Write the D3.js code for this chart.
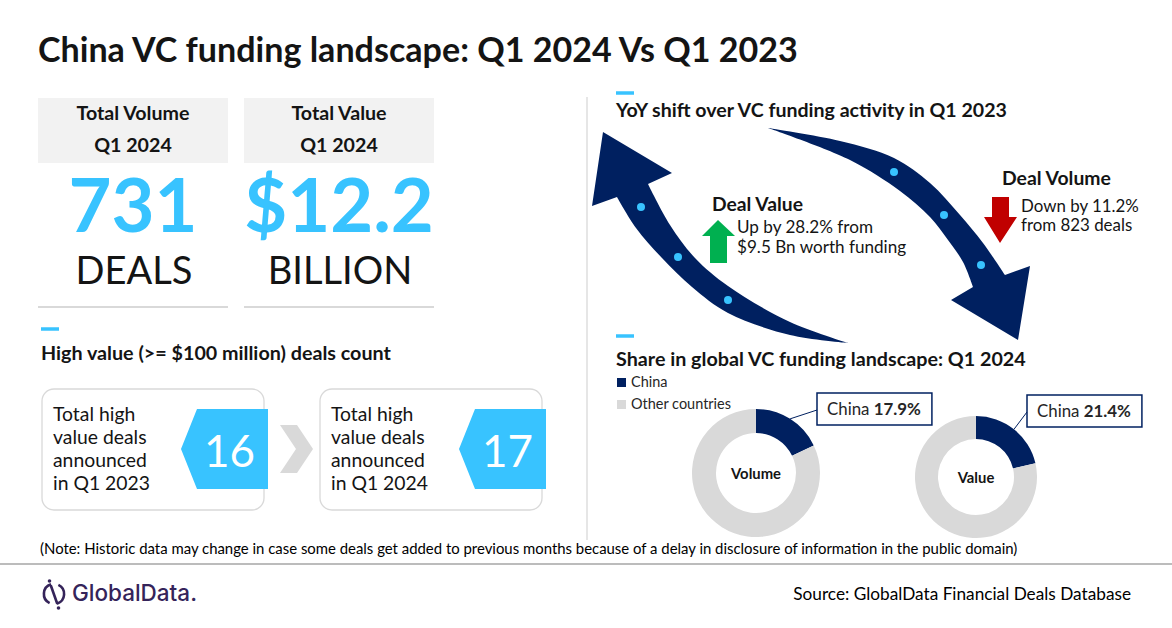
<!DOCTYPE html>
<html>
<head>
<meta charset="utf-8">
<script src="https://cdn.jsdelivr.net/npm/d3@7/dist/d3.min.js"></script>
<style>
  html, body { margin: 0; padding: 0; background: #fff; }
  svg { display: block; font-family: Lato, "Open Sans", sans-serif; }
</style>
</head>
<body>
<svg id="chart" width="1172" height="628"></svg>
<script>
// ---------------- DATA ----------------
const titleText = "China VC funding landscape: Q1 2024 Vs Q1 2023";
const kpiLabels = ["Total Volume", "Total Value"];
const kpiPeriod = "Q1 2024";
const kpiValues = ["731", "$12.2"];
const kpiUnits = ["DEALS", "BILLION"];

const highValueTitle = "High value (>= $100 million) deals count";
const highValuePeriods = ["Q1 2023", "Q1 2024"];
const highValueCounts = [16, 17];

const yoyTitle = "YoY shift over VC funding activity in Q1 2023";
const yoyMetrics = ["Deal Value", "Deal Volume"];
const yoyChangePct = [28.2, -11.2];
const yoyPrior = ["$9.5 Bn worth funding", "823 deals"];

const shareTitle = "Share in global VC funding landscape: Q1 2024";
const shareCategories = ["China", "Other countries"];
const shareMeasures = ["Volume", "Value"];
const shareVolume = [17.9, 82.1];
const shareValue = [21.4, 78.6];

const noteText = "(Note: Historic data may change in case some deals get added to previous months because of a delay in disclosure of information in the public domain)";
const sourceText = "Source: GlobalData Financial Deals Database";
const brandText = "GlobalData.";

// ---------------- STYLE ----------------
const NAVY = "#002060", BLUE = "#38C3FF", LGRAY = "#D9D9D9", BOXGRAY = "#F2F2F2", INK = "#141414";

const svg = d3.select("#chart");

function fit(sel, w) {
  const n = sel.node();
  const L = n.getComputedTextLength();
  const fs = parseFloat(sel.attr("font-size"));
  const nf = fs * w / L;
  sel.attr("font-size", nf.toFixed(2));
  return nf;
}

// ---------------- TITLE ----------------
const title = svg.append("text").attr("x", 38).attr("y", 62)
  .attr("font-size", 32).attr("font-weight", 700).attr("fill", INK).text(titleText);
fit(title, 760);

// ---------------- KPI CARDS ----------------
const kpiX = d3.scalePoint().domain(kpiLabels).range([133, 339]);
const kpiW = 190;
const kg = svg.append("g");
kg.selectAll("rect.hdr").data(kpiLabels).join("rect")
  .attr("x", d => kpiX(d) - kpiW / 2 + 0).attr("y", 98).attr("width", kpiW).attr("height", 65)
  .attr("fill", BOXGRAY);
const lab = kg.selectAll("text.lab").data(kpiLabels).join("text")
  .attr("x", d => kpiX(d)).attr("y", 120).attr("text-anchor", "middle")
  .attr("font-size", 18).attr("font-weight", 700).attr("fill", INK).text(d => d);
const labSize = fit(d3.select(lab.nodes()[0]), 113);
lab.attr("font-size", labSize);
kg.selectAll("text.per").data(kpiLabels).join("text")
  .attr("x", d => kpiX(d)).attr("y", 152).attr("text-anchor", "middle")
  .attr("font-size", labSize).attr("font-weight", 700).attr("fill", INK).text(kpiPeriod);
const val = kg.selectAll("text.val").data(kpiValues).join("text")
  .attr("x", (d, i) => kpiX(kpiLabels[i])).attr("y", 232).attr("text-anchor", "middle")
  .attr("font-size", 80).attr("font-weight", 700).attr("fill", BLUE).text(d => d);
const valSize = fit(d3.select(val.nodes()[0]), 129);
val.attr("font-size", valSize);
const unit = kg.selectAll("text.unit").data(kpiUnits).join("text")
  .attr("x", (d, i) => kpiX(kpiLabels[i]) + 1).attr("y", 284).attr("text-anchor", "middle")
  .attr("font-size", 40).attr("font-weight", 400).attr("fill", INK).text(d => d);
const unitSize = fit(d3.select(unit.nodes()[0]), 117);
unit.attr("font-size", unitSize);
kg.selectAll("line.ul").data(kpiLabels).join("line")
  .attr("x1", d => kpiX(d) - kpiW / 2).attr("x2", d => kpiX(d) + kpiW / 2)
  .attr("y1", 307).attr("y2", 307).attr("stroke", LGRAY).attr("stroke-width", 2.2);

// ---------------- HIGH VALUE DEALS ----------------
svg.append("line").attr("x1", 41).attr("x2", 59).attr("y1", 329).attr("y2", 329)
  .attr("stroke", BLUE).attr("stroke-width", 3.5);
const hvt = svg.append("text").attr("x", 41).attr("y", 360)
  .attr("font-size", 18).attr("font-weight", 700).attr("fill", INK).text(highValueTitle);
fit(hvt, 350);

const hvX = d3.scalePoint().domain(highValuePeriods).range([42, 320]);
const boxW = 222, boxTop = 389, boxH = 121;
const hg = svg.append("g");
hg.selectAll("rect.box").data(highValuePeriods).join("rect")
  .attr("x", d => hvX(d)).attr("y", boxTop).attr("width", boxW).attr("height", boxH)
  .attr("rx", 12).attr("fill", "#fff").attr("stroke", LGRAY).attr("stroke-width", 1.3);

const hvLines = p => ["Total high", "value deals", "announced", "in " + p];
let lineSize = null;
highValuePeriods.forEach((p, i) => {
  const t = hg.append("text").attr("font-size", 20).attr("fill", INK);
  hvLines(p).forEach((ln, j) => {
    t.append("tspan").attr("x", hvX(p) + 11).attr("y", 421 + j * 23).text(ln);
  });
  if (lineSize === null) {
    const probe = hg.append("text").attr("font-size", 20).text("announced");
    lineSize = fit(probe, 94);
    probe.remove();
  }
  t.attr("font-size", lineSize);
  // tag
  const x0 = hvX(p);
  const tag = d3.path();
  tag.moveTo(x0 + 155, 409); tag.lineTo(x0 + 226, 409); tag.lineTo(x0 + 226, 489);
  tag.lineTo(x0 + 155, 489); tag.lineTo(x0 + 139, 449); tag.closePath();
  hg.append("path").attr("d", tag.toString()).attr("fill", BLUE);
  const num = hg.append("text").attr("x", x0 + 187.5).attr("y", 467).attr("text-anchor", "middle")
    .attr("font-size", 48).attr("fill", "#fff").text(highValueCounts[i]);
  fit(num, 51);
});
// chevron between cards
const chev = d3.path();
chev.moveTo(280, 425); chev.lineTo(297, 425); chev.lineTo(313, 449); chev.lineTo(297, 473);
chev.lineTo(280, 473); chev.lineTo(296, 449); chev.closePath();
svg.append("path").attr("d", chev.toString()).attr("fill", LGRAY);

// divider
svg.append("line").attr("x1", 587).attr("x2", 587).attr("y1", 97).attr("y2", 540)
  .attr("stroke", LGRAY).attr("stroke-width", 1.3);

// ---------------- YOY SHIFT ----------------
svg.append("line").attr("x1", 616).attr("x2", 634).attr("y1", 93).attr("y2", 93)
  .attr("stroke", BLUE).attr("stroke-width", 3.5);
const yt = svg.append("text").attr("x", 616).attr("y", 117)
  .attr("font-size", 18).attr("font-weight", 700).attr("fill", INK).text(yoyTitle);
fit(yt, 391);

// curved arrows (illustration)
const curve = d3.line().curve(d3.curveCatmullRom.alpha(0.5));
function arrowPath(outer, head, inner) {
  let d = curve(outer);
  d += head.map(p => "L" + p[0] + "," + p[1]).join("");
  d += curve(inner).replace(/^M/, "L");
  return d + "Z";
}
const leftArrow = arrowPath(
  [[848, 343], [790, 335], [728, 313], [692, 287], [662, 258], [636, 228], [617, 197]],
  [[592, 206], [603, 132], [672, 173], [648, 184]],
  [[648, 184], [670, 225], [695, 258], [728, 286], [790, 322], [848, 343]]
);
const rightArrow = arrowPath(
  [[768, 128], [840, 141], [894, 158], [930, 183], [960, 215], [983, 243], [1005, 275]],
  [[1030, 266], [1018, 340], [951, 300], [973, 287]],
  [[973, 287], [963, 262], [948, 240], [930, 217], [900, 191], [850, 160], [768, 128]]
);
svg.append("path").attr("d", leftArrow).attr("fill", NAVY);
svg.append("path").attr("d", rightArrow).attr("fill", NAVY);
const dots = [[641, 207], [678, 257], [728, 300], [894, 172], [944, 215], [981, 265]];
svg.selectAll("circle.dot").data(dots).join("circle")
  .attr("cx", d => d[0]).attr("cy", d => d[1]).attr("r", 4).attr("fill", BLUE);

// Deal Value block
const dv = svg.append("text").attr("x", 712).attr("y", 211).attr("font-size", 18)
  .attr("font-weight", 700).attr("fill", INK).text(yoyMetrics[0]);
fit(dv, 91);
const up = d3.path();
up.moveTo(718, 220); up.lineTo(735, 236); up.lineTo(727, 236); up.lineTo(727, 263);
up.lineTo(710, 263); up.lineTo(710, 236); up.lineTo(702, 236); up.closePath();
svg.append("path").attr("d", up.toString()).attr("fill", "#00B050");
const dvt = svg.append("text").attr("font-size", 17).attr("fill", INK);
dvt.append("tspan").attr("x", 737).attr("y", 233).text(`Up by ${yoyChangePct[0]}% from`);
dvt.append("tspan").attr("x", 737).attr("y", 253).text(yoyPrior[0]);
{
  const probe = svg.append("text").attr("font-size", 17).text(`Up by ${yoyChangePct[0]}% from`);
  const s = fit(probe, 136); probe.remove(); dvt.attr("font-size", s);
}

// Deal Volume block
const dvo = svg.append("text").attr("x", 1002).attr("y", 185).attr("font-size", 18)
  .attr("font-weight", 700).attr("fill", INK).text(yoyMetrics[1]);
fit(dvo, 109);
const dn = d3.path();
dn.moveTo(992, 197); dn.lineTo(1009, 197); dn.lineTo(1009, 217); dn.lineTo(1017, 217);
dn.lineTo(1000, 243); dn.lineTo(984, 217); dn.lineTo(992, 217); dn.closePath();
svg.append("path").attr("d", dn.toString()).attr("fill", "#C00000");
const dvot = svg.append("text").attr("font-size", 17).attr("fill", INK);
dvot.append("tspan").attr("x", 1021).attr("y", 212).text(`Down by ${Math.abs(yoyChangePct[1])}%`);
dvot.append("tspan").attr("x", 1021).attr("y", 231).text(`from ${yoyPrior[1]}`);
{
  const probe = svg.append("text").attr("font-size", 17).text(`Down by ${Math.abs(yoyChangePct[1])}%`);
  const s = fit(probe, 118); probe.remove(); dvot.attr("font-size", s);
}

// ---------------- SHARE DONUTS ----------------
svg.append("line").attr("x1", 616).attr("x2", 634).attr("y1", 336).attr("y2", 336)
  .attr("stroke", BLUE).attr("stroke-width", 3.5);
const st = svg.append("text").attr("x", 616).attr("y", 366)
  .attr("font-size", 18).attr("font-weight", 700).attr("fill", INK).text(shareTitle);
fit(st, 410);

const color = d3.scaleOrdinal().domain(shareCategories).range([NAVY, LGRAY]);
const legY = d3.scalePoint().domain(shareCategories).range([378, 400]);
const lg = svg.append("g");
lg.selectAll("rect").data(shareCategories).join("rect")
  .attr("x", 617).attr("y", d => legY(d)).attr("width", 9).attr("height", 9)
  .attr("fill", d => color(d));
const legT = lg.selectAll("text").data(shareCategories).join("text")
  .attr("x", 631).attr("y", d => legY(d) + 9).attr("font-size", 14).attr("fill", "#262626")
  .text(d => d);
const legSize = fit(d3.select(legT.nodes()[1]), 100);
legT.attr("font-size", legSize);

const pie = d3.pie().sort(null).value(d => d.v);
const donuts = [
  { name: shareMeasures[0], values: shareVolume, cx: 756, cy: 473, r: 64, ir: 40, lx: 817, ly: 393, tb: 479 },
  { name: shareMeasures[1], values: shareValue, cx: 976, cy: 477, r: 61, ir: 38, lx: 1027, ly: 395, tb: 483 }
];
let boxTextSize = null;
donuts.forEach(dn => {
  const g = svg.append("g").attr("transform", `translate(${dn.cx},${dn.cy})`);
  const arcs = pie(shareCategories.map((c, i) => ({ c, v: dn.values[i] })));
  const arc = d3.arc().innerRadius(dn.ir).outerRadius(dn.r);
  g.selectAll("path").data(arcs).join("path")
    .attr("d", arc).attr("fill", d => color(d.data.c));
  const ct = g.append("text").attr("y", dn.tb - dn.cy).attr("text-anchor", "middle")
    .attr("font-size", 14).attr("font-weight", 700).attr("fill", INK).text(dn.name);
  if (dn.name === shareMeasures[0]) fit(ct, 50); else ct.attr("font-size", g.node().previousSibling ? null : 14);
  // leader + label
  const a0 = arcs[0];
  const mid = (a0.startAngle + a0.endAngle) / 2;
  const p = d3.pointRadial(mid, dn.r);
  const bx = dn.lx - dn.cx, by = dn.ly - dn.cy;
  const t = g.append("text").attr("x", bx + 10).attr("y", by + 22).attr("font-size", 17).attr("fill", "#262626");
  t.append("tspan").text(a0.data.c + " ");
  t.append("tspan").attr("font-weight", 700).text(a0.data.v.toFixed(1) + "%");
  if (boxTextSize === null) boxTextSize = fit(t, 94);
  t.attr("font-size", boxTextSize);
  const tw = t.node().getComputedTextLength();
  const bw = tw + 21, bh = 32;
  g.insert("rect", "text:last-of-type").attr("x", bx).attr("y", by).attr("width", bw).attr("height", bh)
    .attr("fill", "#fff").attr("stroke", NAVY).attr("stroke-width", 1.5);
  g.append("line").attr("x1", p[0]).attr("y1", p[1]).attr("x2", bx).attr("y2", by + 17)
    .attr("stroke", NAVY).attr("stroke-width", 1);
  t.raise();
});
// equalize donut center label sizes
{
  const labs = svg.selectAll("g text").filter(function () { return shareMeasures.includes(this.textContent); });
  const s = labs.nodes()[0].getAttribute("font-size");
  labs.attr("font-size", s);
}

// ---------------- FOOTER ----------------
const note = svg.append("text").attr("x", 40).attr("y", 554).attr("font-size", 13)
  .attr("fill", "#000").text(noteText);
fit(note, 978);
svg.append("line").attr("x1", 0).attr("x2", 1172).attr("y1", 564).attr("y2", 564)
  .attr("stroke", "#A6A6A6").attr("stroke-width", 1.5);

// logo
const PURPLE = "#35245A";
const logo = svg.append("g").attr("transform", "translate(54,594)");
const ring = d3.arc().innerRadius(8.8).outerRadius(11.4);
logo.append("path").attr("d", ring({ startAngle: 0.45, endAngle: Math.PI - 0.3 })).attr("fill", PURPLE);
logo.append("path").attr("d", ring({ startAngle: Math.PI + 0.45, endAngle: 2 * Math.PI - 0.3 })).attr("fill", PURPLE);
logo.append("line").attr("x1", -3).attr("y1", -8).attr("x2", 3).attr("y2", 9)
  .attr("stroke", PURPLE).attr("stroke-width", 2.6).attr("stroke-linecap", "round");
logo.append("circle").attr("cx", -4.5).attr("cy", -13).attr("r", 1.8).attr("fill", PURPLE);
logo.append("circle").attr("cx", 4.5).attr("cy", 14).attr("r", 1.8).attr("fill", PURPLE);
const brand = svg.append("text").attr("x", 72).attr("y", 601).attr("font-size", 22)
  .attr("font-family", "Inter, Roboto, sans-serif").attr("font-weight", 500)
  .attr("fill", PURPLE).text(brandText);
fit(brand, 125);

const src = svg.append("text").attr("x", 1131).attr("y", 600).attr("text-anchor", "end")
  .attr("font-size", 17).attr("fill", "#000").text(sourceText);
fit(src, 338);
</script>
</body>
</html>
